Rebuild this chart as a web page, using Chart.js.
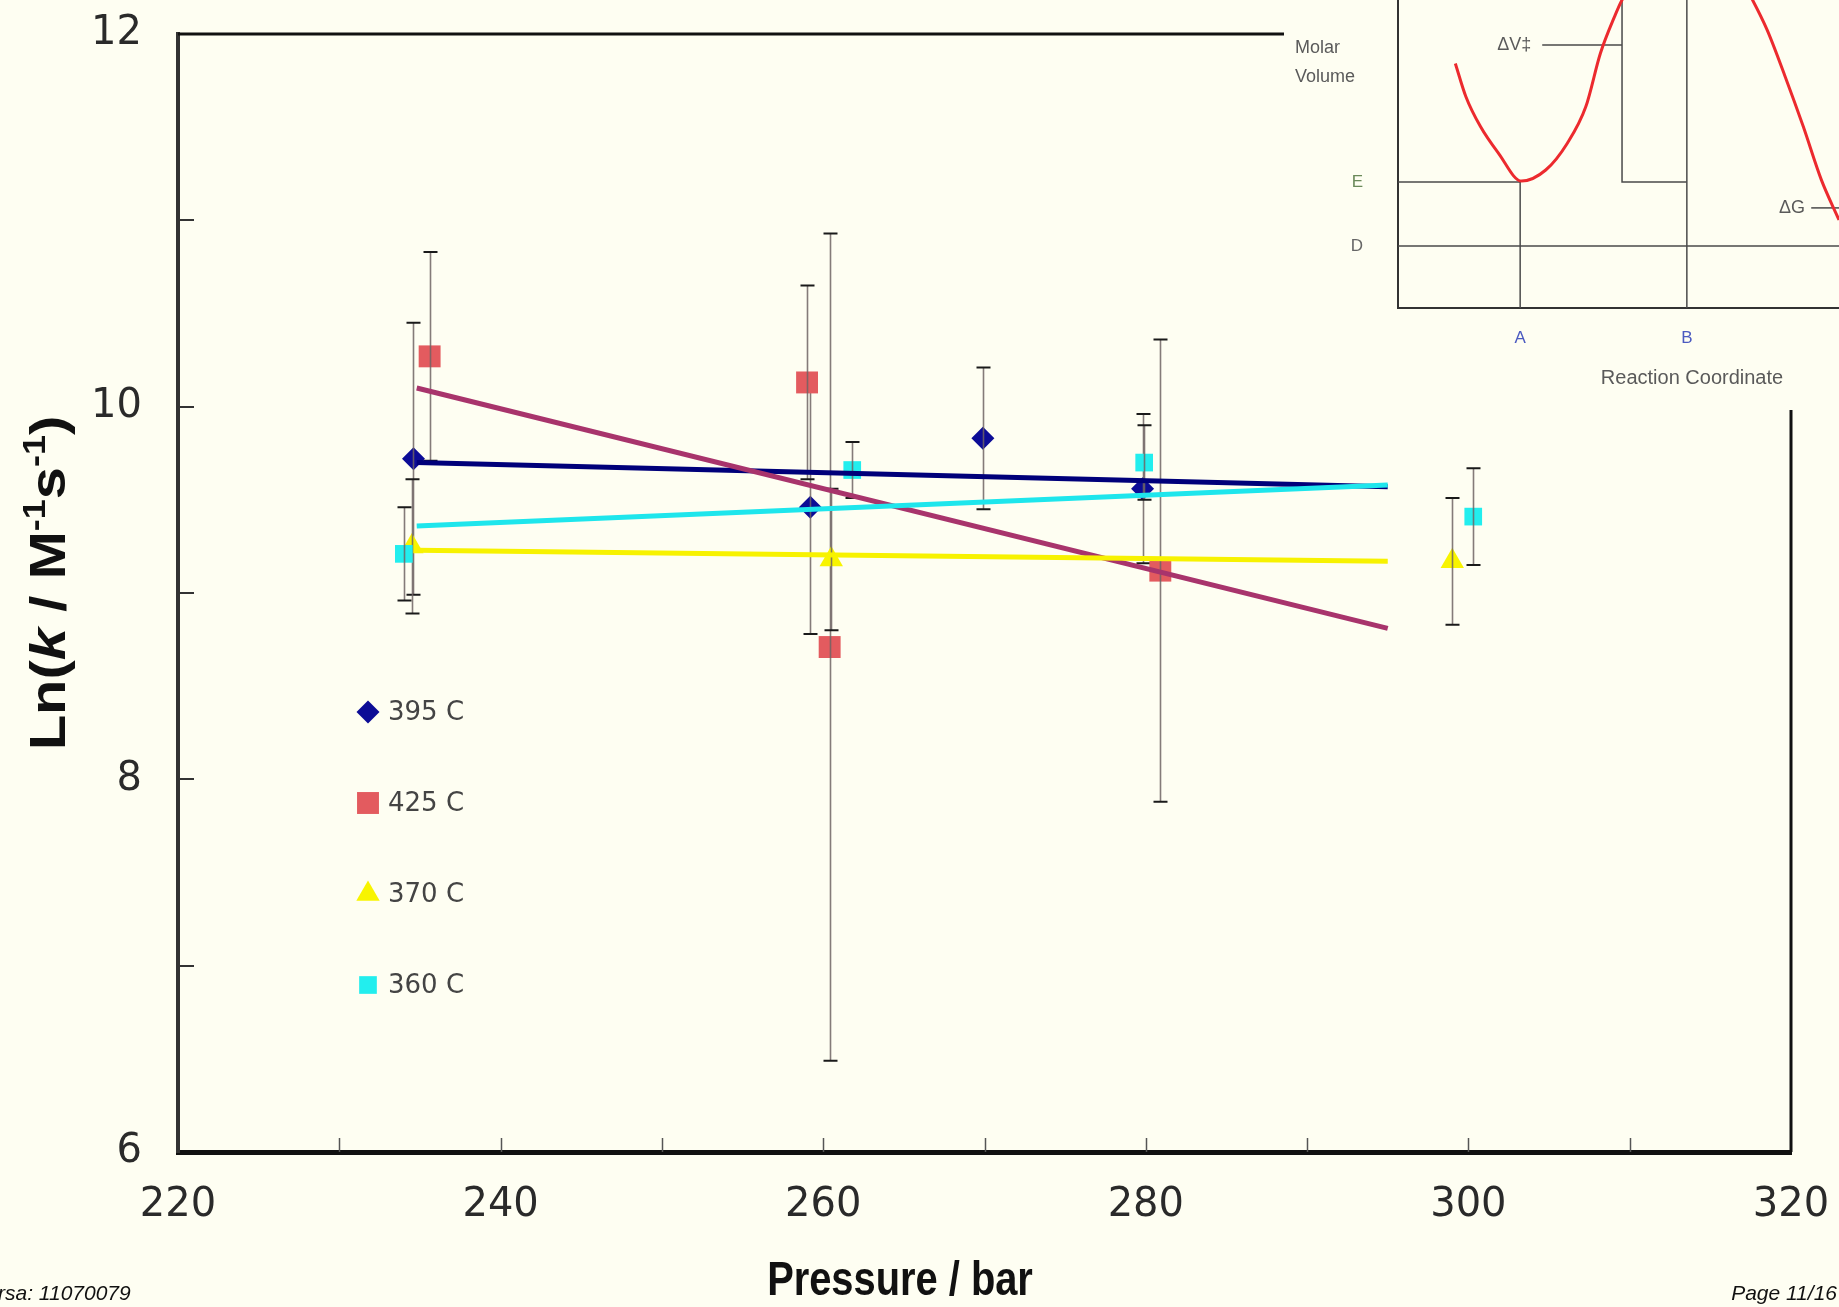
<!DOCTYPE html>
<html>
<head>
<meta charset="utf-8">
<script src="https://cdn.jsdelivr.net/npm/chart.js@4.4.0/dist/chart.umd.min.js"></script>
<style>
    html, body {margin: 0; padding: 0; width: 1839px; height: 1307px; overflow: hidden; background: #fefef2;}
    #main {position: absolute; left: 0; top: 0;}
    #inset {position: absolute; left: 1284px; top: 0;}
    .foot {position: absolute; top: 1281px; font: italic 21px "Liberation Sans", Arial, sans-serif; color: #111;}
</style>
</head>
<body>
<canvas id="main" width="1839" height="1307"></canvas>
<canvas id="inset" width="555" height="410"></canvas>
<div class="foot" style="left:-2px">rsa: 11070079</div>
<div class="foot" style="right:2px">Page 11/16</div>
<script>
// ---- data ----
const seriesNames = ['395 C', '425 C', '370 C', '360 C'];

const p395 = [234.6, 259.2, 269.9, 279.8];
const k395 = [9.72, 9.46, 9.83, 9.56];
const e395 = [0.73, 0.68, 0.38, 0.40];

const p425 = [235.6, 259.0, 260.4, 280.9];
const k425 = [10.27, 10.13, 8.71, 9.12];
const e425 = [0.56, 0.52, 2.22, 1.24];

const p370 = [234.5, 260.5, 299.0];
const k370 = [9.25, 9.18, 9.17];
const e370 = [0.36, 0.38, 0.34];

const p360 = [234.0, 261.8, 279.9, 300.3];
const k360 = [9.21, 9.66, 9.70, 9.41];
const e360 = [0.25, 0.15, 0.20, 0.26];

// linear trendlines (start / end)
const trendP = [234.8, 295];
const trend395 = [9.70, 9.57];
const trend425 = [10.10, 8.81];
const trend370 = [9.23, 9.17];
const trend360 = [9.36, 9.58];

const xMin = 220, xMax = 320, xStep = 10, xLabelStep = 20;
const yMin = 6, yMax = 12, yStep = 1, yLabelStep = 2;

// inset: molar volume vs reaction coordinate (arbitrary 0..10 units)
const curveU = [1.30, 1.54, 1.87, 2.28, 2.80, 3.35, 3.84, 4.26, 4.59, 4.91, 5.08, 5.71, 6.62, 7.53, 8.04, 8.37, 8.78, 9.19, 9.60, 10.0];
const curveV = [7.94, 6.86, 5.89, 5.02, 4.12, 4.48, 5.35, 6.54, 8.27, 9.46, 10.0, 11.3, 11.9, 11.3, 10.0, 9.03, 7.51, 5.89, 4.16, 2.86];
const levelE = 4.09, levelD = 2.01, posA = 2.77, posB = 6.55, posTS = 5.08;
const levelDV = 8.54, levelDG = 3.25;
const insetXTicks = [posA, posB];
const insetXLabels = ['A', 'B'];
const insetYTicks = [levelE, levelD];
const insetYLabels = ['E', 'D'];

const BG = '#fefef2';

function pts(xs, ys) {
    return xs.map((x, i) => ({x: x, y: ys[i]}));
}

// keep the plot box where the layout padding puts it
function noOverflow(s) {
    s.paddingLeft = 0;
    s.paddingRight = 0;
    s.paddingTop = 0;
    s.paddingBottom = 0;
}

const bgPlugin = {
    id: 'bg',
    beforeDraw(chart) {
        const c = chart.ctx;
        c.save();
        c.fillStyle = BG;
        c.fillRect(0, 0, chart.width, chart.height);
        c.restore();
    }
};

// frame (top/right) and inward tick marks
const framePlugin = {
    id: 'frame',
    beforeDatasetsDraw(chart) {
        const c = chart.ctx, a = chart.chartArea;
        const xs = chart.scales.x, ys = chart.scales.y;
        c.save();
        c.strokeStyle = '#111';
        c.lineWidth = 3;
        c.beginPath();
        c.moveTo(a.left, a.top);
        c.lineTo(a.right, a.top);
        c.lineTo(a.right, a.bottom);
        c.stroke();
        c.lineWidth = 1.5;
        c.strokeStyle = '#555';
        xs.ticks.forEach(t => {
            if (t.value === xMin || t.value === xMax) return;
            const px = Math.round(xs.getPixelForValue(t.value)) + 0.5;
            c.beginPath();
            c.moveTo(px, a.bottom);
            c.lineTo(px, a.bottom - 14);
            c.stroke();
        });
        c.lineWidth = 2;
        c.strokeStyle = '#333';
        ys.ticks.forEach(t => {
            if (t.value === yMin || t.value === yMax) return;
            const py = Math.round(ys.getPixelForValue(t.value));
            c.beginPath();
            c.moveTo(a.left, py);
            c.lineTo(a.left + 16, py);
            c.stroke();
        });
        c.restore();
    }
};

// error bars drawn with each marker series
const errorBarPlugin = {
    id: 'errorBars',
    afterDatasetDraw(chart, args) {
        const ds = chart.data.datasets[args.index];
        if (!ds.errors) return;
        const c = chart.ctx, xs = chart.scales.x, ys = chart.scales.y;
        c.save();
        ds.data.forEach((d, i) => {
            const px = Math.round(xs.getPixelForValue(d.x)) + 0.5;
            const top = ys.getPixelForValue(d.y + ds.errors[i]);
            const bot = ys.getPixelForValue(d.y - ds.errors[i]);
            c.strokeStyle = 'rgba(110,100,100,0.85)';
            c.lineWidth = 1.6;
            c.beginPath();
            c.moveTo(px, top);
            c.lineTo(px, bot);
            c.stroke();
            c.strokeStyle = '#1a1a1a';
            c.lineWidth = 2;
            c.beginPath();
            c.moveTo(px - 7, top);
            c.lineTo(px + 7, top);
            c.moveTo(px - 7, bot);
            c.lineTo(px + 7, bot);
            c.stroke();
        });
        c.restore();
    }
};

// legend inside the plot area
const legendPlugin = {
    id: 'innerLegend',
    afterDraw(chart, args, opts) {
        const c = chart.ctx;
        c.save();
        opts.items.forEach((it, i) => {
            const y = opts.y0 + i * opts.dy;
            c.fillStyle = it.color;
            Chart.helpers.drawPoint(c, {pointStyle: it.style, radius: it.radius, rotation: 0, borderWidth: 0}, opts.x, y);
            c.fillStyle = '#444';
            c.font = '26px "DejaVu Sans", Verdana, sans-serif';
            c.textBaseline = 'middle';
            c.textAlign = 'left';
            c.fillText(seriesNames[i], opts.x + 20, y + 1);
        });
        c.restore();
    }
};

function drawRich(c, parts, size, family) {
    let total = 0;
    const fonts = parts.map(p => (p.it ? 'italic ' : '') + 'bold ' + Math.round(p.sup ? size * 0.62 : size) + 'px ' + family);
    const widths = parts.map((p, i) => {
        c.font = fonts[i];
        return c.measureText(p.t).width;
    });
    widths.forEach(w => total += w);
    let x = -total / 2;
    c.textBaseline = 'alphabetic';
    c.textAlign = 'left';
    parts.forEach((p, i) => {
        c.font = fonts[i];
        c.fillText(p.t, x, size * 0.36 + (p.sup ? -size * 0.4 : 0));
        x += widths[i];
    });
}

const titlePlugin = {
    id: 'axisTitles',
    afterDraw(chart, args, opts) {
        const c = chart.ctx;
        const fam = '"Liberation Sans", Arial, sans-serif';
        c.save();
        c.fillStyle = '#111';
        c.translate(opts.yTitleX, opts.yTitleY);
        c.scale(0.85, 1);
        c.rotate(-Math.PI / 2);
        drawRich(c, [
            {t: 'Ln('}, {t: 'k', it: true}, {t: ' / M'}, {t: '-1', sup: true},
            {t: 's'}, {t: '-1', sup: true}, {t: ')'}
        ], 58, fam);
        c.restore();

        c.save();
        c.fillStyle = '#111';
        c.translate(opts.xTitleX, opts.xTitleY);
        c.scale(0.83, 1);
        drawRich(c, [{t: 'Pressure / bar'}], 48, fam);
        c.restore();
    }
};

const markerSets = [
    {name: seriesNames[0], data: pts(p395, k395), errors: e395, style: 'rectRot', radius: 11.5, color: '#0c0c96', order: 8},
    {name: seriesNames[1], data: pts(p425, k425), errors: e425, style: 'rect', radius: 15.5, color: '#e35b5f', order: 7},
    {name: seriesNames[2], data: pts(p370, k370), errors: e370, style: 'triangle', radius: 13.5, color: '#f8f400', order: 6},
    {name: seriesNames[3], data: pts(p360, k360), errors: e360, style: 'rect', radius: 12.5, color: '#22eeee', order: 5}
];
const trendSets = [
    {data: pts(trendP, trend395), color: '#00007a', order: 4},
    {data: pts(trendP, trend425), color: '#a8346c', order: 3},
    {data: pts(trendP, trend370), color: '#f7f200', order: 2},
    {data: pts(trendP, trend360), color: '#1ee6ec', order: 1}
];

const datasets = markerSets.map(m => ({
    label: m.name,
    data: m.data,
    errors: m.errors,
    pointStyle: m.style,
    pointRadius: m.radius,
    pointBackgroundColor: m.color,
    pointBorderWidth: 0,
    showLine: false,
    order: m.order
})).concat(trendSets.map((t, i) => ({
    label: seriesNames[i] + ' trend',
    data: t.data,
    showLine: true,
    borderColor: t.color,
    borderWidth: 5,
    pointRadius: 0,
    order: t.order
})));

const tickFont = {family: '"DejaVu Sans", Verdana, sans-serif', size: 40};

new Chart(document.getElementById('main'), {
    type: 'scatter',
    data: {datasets: datasets},
    options: {
        responsive: false,
        animation: false,
        layout: {padding: {left: 0, top: 34, right: 48, bottom: 0}},
        plugins: {
            legend: {display: false},
            tooltip: {enabled: false},
            innerLegend: {
                x: 368, y0: 712, dy: 91,
                items: markerSets.map(m => ({style: m.style, radius: m.radius, color: m.color}))
            },
            axisTitles: {yTitleX: 47, yTitleY: 583, xTitleX: 900, xTitleY: 1278}
        },
        scales: {
            x: {
                type: 'linear', min: xMin, max: xMax,
                ticks: {
                    stepSize: xStep, autoSkip: false, padding: 30, color: '#2a2a2a', font: tickFont,
                    callback: v => (v % xLabelStep === 0 ? v : '')
                },
                grid: {display: false, drawTicks: false},
                border: {display: true, color: '#111', width: 5},
                afterFit: s => { s.height = 155; noOverflow(s); }
            },
            y: {
                type: 'linear', min: yMin, max: yMax,
                ticks: {
                    stepSize: yStep, autoSkip: false, padding: 36, color: '#2a2a2a', font: tickFont,
                    callback: v => (v % yLabelStep === 0 ? v : '')
                },
                grid: {display: false, drawTicks: false},
                border: {display: true, color: '#333', width: 4},
                afterFit: s => { s.width = 178; noOverflow(s); }
            }
        }
    },
    plugins: [bgPlugin, framePlugin, errorBarPlugin, legendPlugin, titlePlugin]
});

// ---- inset diagram ----
const insetTextPlugin = {
    id: 'insetText',
    afterDraw(chart) {
        const c = chart.ctx;
        const xs = chart.scales.x, ys = chart.scales.y;
        c.save();
        c.fillStyle = '#5a5a5a';
        c.font = '18px "Liberation Sans", Arial, sans-serif';
        c.textBaseline = 'middle';
        c.textAlign = 'left';
        c.fillText('Molar', 11, 48);
        c.fillText('Volume', 11, 77);
        c.textAlign = 'right';
        c.fillText('\u0394V\u2021', xs.getPixelForValue(3.02), ys.getPixelForValue(levelDV));
        c.fillText('\u0394G', xs.getPixelForValue(9.23), ys.getPixelForValue(levelDG));
        c.textAlign = 'center';
        c.font = '20px "Liberation Sans", Arial, sans-serif';
        c.fillText('Reaction Coordinate', 408, 378);
        c.restore();
    }
};

const lineStyle = {showLine: true, pointRadius: 0, borderColor: '#4a4a4a', borderWidth: 1.5};
new Chart(document.getElementById('inset'), {
    type: 'scatter',
    data: {
        datasets: [
            {data: pts(curveU, curveV), showLine: true, pointRadius: 0, borderColor: '#ec2a2e', borderWidth: 3,
                cubicInterpolationMode: 'monotone'},
            Object.assign({data: pts([0, posA], [levelE, levelE])}, lineStyle),
            Object.assign({data: pts([0, 10], [levelD, levelD])}, lineStyle),
            Object.assign({data: pts([posA, posA], [0, levelE])}, lineStyle),
            Object.assign({data: pts([posB, posB], [0, 10])}, lineStyle),
            Object.assign({data: pts([posTS, posTS, posB], [10, levelE, levelE])}, lineStyle),
            Object.assign({data: pts([3.27, posTS], [levelDV, levelDV])}, lineStyle),
            Object.assign({data: pts([9.37, 10], [levelDG, levelDG])}, lineStyle)
        ]
    },
    options: {
        responsive: false,
        animation: false,
        layout: {padding: 0},
        plugins: {legend: {display: false}, tooltip: {enabled: false}},
        scales: {
            x: {
                type: 'linear', min: 0, max: 10,
                afterBuildTicks: s => { s.ticks = insetXTicks.map(v => ({value: v})); },
                ticks: {
                    autoSkip: false, padding: 20, color: '#4b5ac0',
                    font: {family: '"Liberation Sans", Arial, sans-serif', size: 17},
                    callback: (v, i) => insetXLabels[i]
                },
                grid: {display: false, drawTicks: false},
                border: {display: true, color: '#333', width: 2},
                afterFit: s => { s.height = 102; noOverflow(s); }
            },
            y: {
                type: 'linear', min: 0, max: 10,
                afterBuildTicks: s => { s.ticks = insetYTicks.map(v => ({value: v})); },
                ticks: {
                    autoSkip: false, padding: 35,
                    color: ctx => (ctx.index === 0 ? '#6b8a5a' : '#666'),
                    font: {family: '"Liberation Sans", Arial, sans-serif', size: 17},
                    callback: (v, i) => insetYLabels[i]
                },
                grid: {display: false, drawTicks: false},
                border: {display: true, color: '#333', width: 2},
                afterFit: s => { s.width = 114; noOverflow(s); }
            }
        }
    },
    plugins: [bgPlugin, insetTextPlugin]
});
</script>
</body>
</html>
